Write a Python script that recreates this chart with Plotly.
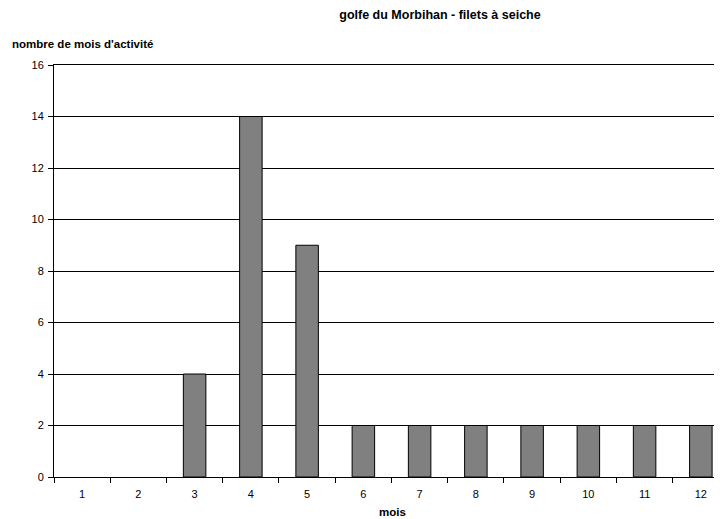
import plotly.graph_objects as go

mois = ["1", "2", "3", "4", "5", "6", "7", "8", "9", "10", "11", "12"]
nombre_mois_activite = [0, 0, 4, 14, 9, 2, 2, 2, 2, 2, 2, 2]
y_ticks = [0, 2, 4, 6, 8, 10, 12, 14, 16]

FONT = "Liberation Sans, Arial, sans-serif"

# page body has an 8px margin; figure is sized so it fills the 722x519 window
W, H = 714, 511
L, T, B = 46, 57, 42
PW = W - L
PH = H - T - B

fig = go.Figure()
fig.add_trace(go.Bar(
    x=mois,
    y=nombre_mois_activite,
    marker=dict(
        color="#808080",
        line=dict(color="#000000", width=[1 if v > 0 else 0 for v in nombre_mois_activite]),
    ),
    hoverinfo="x+y",
))

fig.update_layout(
    width=W,
    height=H,
    margin=dict(l=L, r=0, t=T, b=B, pad=0),
    paper_bgcolor="white",
    plot_bgcolor="white",
    showlegend=False,
    bargap=0.6,
    font=dict(family=FONT, size=11, color="#000000"),
    title=dict(
        text="<b>golfe du Morbihan - filets à seiche</b>",
        xref="container", x=(440 - 8) / W, xanchor="center",
        yref="container", y=1 - (15 - 8) / H, yanchor="middle",
        font=dict(family=FONT, size=12.5, color="#000000"),
    ),
    xaxis=dict(
        type="category",
        range=[-0.5, 11.376],
        showgrid=False,
        showline=True,
        mirror=True,
        linecolor="#000000",
        linewidth=1,
        ticks="outside",
        tickson="boundaries",
        ticklen=5,
        tickcolor="#000000",
        tickfont=dict(family=FONT, size=11),
        ticklabelstandoff=7,
        zeroline=False,
    ),
    yaxis=dict(
        range=[0, 16],
        tickvals=y_ticks,
        showgrid=True,
        gridcolor="#000000",
        gridwidth=1,
        showline=True,
        linecolor="#000000",
        linewidth=1,
        ticks="outside",
        ticklen=5,
        tickcolor="#000000",
        tickfont=dict(family=FONT, size=11),
        ticklabelstandoff=2,
        zeroline=False,
    ),
    annotations=[
        dict(
            text="<b>nombre de mois d'activité</b>",
            xref="paper", x=(10 - 54) / PW, xanchor="left",
            yref="paper", y=(477 - 44) / PH, yanchor="middle",
            showarrow=False,
            font=dict(family=FONT, size=11.5, color="#000000"),
        ),
        dict(
            text="<b>mois</b>",
            xref="paper", x=(392 - 54) / PW, xanchor="center",
            yref="paper", y=(477 - 512) / PH, yanchor="middle",
            showarrow=False,
            font=dict(family=FONT, size=11.5, color="#000000"),
        ),
    ],
)

fig.write_html("out.html")
